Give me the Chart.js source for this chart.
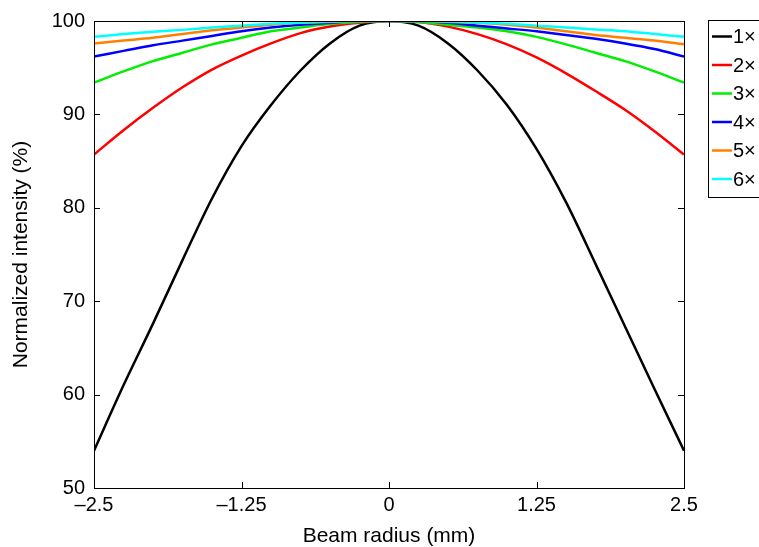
<!DOCTYPE html>
<html>
<head>
<meta charset="utf-8">
<script src="https://cdn.jsdelivr.net/npm/chart.js@4.4.1/dist/chart.umd.min.js"></script>
<style>
  html, body { margin: 0; padding: 0; background: #fff; }
  #wrap { width: 759px; height: 547px; position: relative; }
</style>
</head>
<body>
<div id="wrap"><canvas id="myChart" width="759" height="547"></canvas></div>
<script>
// beam radius (mm)
const radius = [-2.5, -2.25, -2.0, -1.75, -1.5, -1.25, -1.0, -0.75, -0.5, -0.25, 0,
                0.25, 0.5, 0.75, 1.0, 1.25, 1.5, 1.75, 2.0, 2.25, 2.5];

// normalized intensity (%) per magnification
const mag1 = [54.0, 61.0, 67.6, 74.4, 81.0, 86.6, 91.0, 94.7, 97.6, 99.5, 100,
              99.5, 97.6, 94.7, 91.0, 86.3, 80.6, 74.0, 67.3, 60.6, 54.0];
const mag2 = [85.7, 88.3, 90.7, 92.9, 94.8, 96.3, 97.6, 98.7, 99.4, 99.8, 100,
              99.9, 99.4, 98.6, 97.5, 96.1, 94.4, 92.5, 90.5, 88.2, 85.7];
const mag3 = [93.4, 94.6, 95.7, 96.6, 97.5, 98.2, 98.9, 99.3, 99.7, 99.9, 100,
              99.9, 99.6, 99.3, 98.9, 98.3, 97.5, 96.6, 95.7, 94.6, 93.4];
const mag4 = [96.2, 96.8, 97.4, 97.9, 98.4, 98.9, 99.3, 99.6, 99.8, 100, 100,
              100, 99.8, 99.5, 99.2, 98.9, 98.5, 98.1, 97.6, 97.0, 96.2];
const mag5 = [97.6, 97.9, 98.2, 98.6, 99.0, 99.3, 99.6, 99.8, 99.9, 100, 100,
              100, 99.9, 99.8, 99.6, 99.3, 98.9, 98.5, 98.2, 97.9, 97.5];
const mag6 = [98.3, 98.6, 98.85, 99.05, 99.3, 99.5, 99.7, 99.85, 99.95, 100, 100,
              100, 99.95, 99.85, 99.7, 99.5, 99.3, 99.1, 98.9, 98.6, 98.3];

const seriesLabels = ['1×', '2×', '3×', '4×', '5×', '6×'];
const seriesColors = ['#000000', '#ff0000', '#00ee00', '#0000ff', '#ff8000', '#00ffff'];
const xTicks = [-2.5, -1.25, 0, 1.25, 2.5];
const yTicks = [50, 60, 70, 80, 90, 100];

const FONT = '"Liberation Sans", Arial, Helvetica, sans-serif';

document.addEventListener('DOMContentLoaded', () => {

  const ctx = document.getElementById('myChart');
  const allSeries = [mag1, mag2, mag3, mag4, mag5, mag6];

  // box, inward ticks and the legend on the right
  const framePlugin = {
    id: 'frame',
    afterDraw(chart) {
      const c = chart.ctx;
      const a = chart.chartArea;
      const xs = chart.scales.x, ys = chart.scales.y;
      c.save();
      c.strokeStyle = '#000';
      c.lineWidth = 1;
      c.strokeRect(Math.round(a.left) + 0.5, Math.round(a.top) + 0.5,
                   Math.round(a.right - a.left), Math.round(a.bottom - a.top));
      c.beginPath();
      xTicks.forEach(v => {
        const px = Math.round(xs.getPixelForValue(v)) + 0.5;
        c.moveTo(px, a.bottom); c.lineTo(px, a.bottom - 6);
        c.moveTo(px, a.top); c.lineTo(px, a.top + 6);
      });
      yTicks.forEach(v => {
        const py = Math.round(ys.getPixelForValue(v)) + 0.5;
        c.moveTo(a.left, py); c.lineTo(a.left + 6, py);
        c.moveTo(a.right, py); c.lineTo(a.right - 6, py);
      });
      c.stroke();

      // legend
      const lx = 708, ly = 20, rowH = 28.5;
      c.fillStyle = '#fff';
      c.fillRect(lx, ly, 70, 177);
      c.strokeRect(lx + 0.5, ly + 0.5, 70, 177);
      c.font = '20px ' + FONT;
      c.textBaseline = 'middle';
      c.textAlign = 'left';
      chart.data.datasets.forEach((ds, i) => {
        const y = ly + 16.5 + i * rowH;
        c.strokeStyle = ds.borderColor;
        c.lineWidth = 2.5;
        c.beginPath();
        c.moveTo(712, y); c.lineTo(732, y);
        c.stroke();
        c.fillStyle = '#000';
        c.fillText(ds.label, 733, y + 1);
      });
      c.restore();
    }
  };

  new Chart(ctx, {
    type: 'line',
    data: {
      datasets: allSeries.map((vals, i) => ({
        label: seriesLabels[i],
        data: radius.map((r, k) => ({ x: r, y: vals[k] })),
        borderColor: seriesColors[i],
        borderWidth: 2.5,
        pointRadius: 0,
        cubicInterpolationMode: 'monotone',
        fill: false,
        order: 5 - i
      }))
    },
    options: {
      responsive: false,
      animation: false,
      layout: { padding: { top: 19, right: 75, left: 0, bottom: 0 } },
      plugins: {
        legend: { display: false },
        tooltip: { enabled: false }
      },
      scales: {
        x: {
          type: 'linear',
          min: -2.5,
          max: 2.5,
          afterBuildTicks: (s) => { s.ticks = xTicks.map(v => ({ value: v })); },
          afterFit: (s) => { s.height = 59; },
          grid: { display: false, drawTicks: false },
          border: { display: false },
          ticks: {
            color: '#000',
            font: { family: FONT, size: 20 },
            padding: 5,
            maxRotation: 0,
            callback: (v) => String(v).replace('-', '\u2013')
          },
          title: {
            display: true,
            text: 'Beam radius (mm)',
            color: '#000',
            font: { family: FONT, size: 21 },
            padding: { top: 0, bottom: -2 }
          }
        },
        y: {
          type: 'linear',
          min: 50,
          max: 100,
          afterBuildTicks: (s) => { s.ticks = yTicks.map(v => ({ value: v })); },
          afterFit: (s) => { s.width = 94; },
          grid: { display: false, drawTicks: false },
          border: { display: false },
          ticks: {
            color: '#000',
            font: { family: FONT, size: 20 },
            padding: 9
          },
          title: {
            display: true,
            text: 'Normalized intensity (%)',
            color: '#000',
            font: { family: FONT, size: 21 },
            padding: { top: 9, bottom: 0 }
          }
        }
      }
    },
    plugins: [framePlugin]
  });

});
</script>
</body>
</html>
